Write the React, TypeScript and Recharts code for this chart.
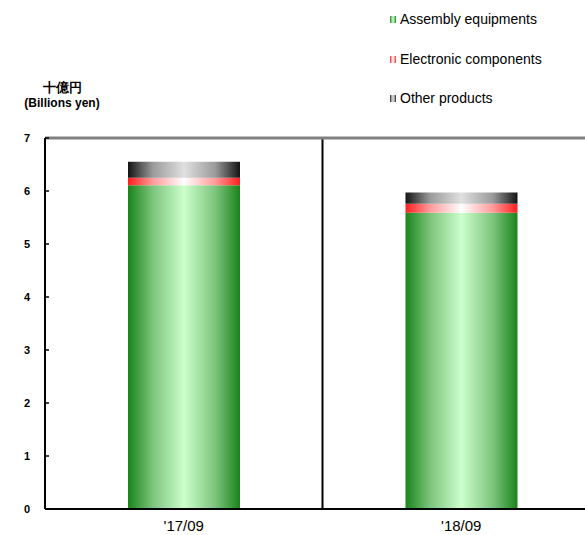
import { BarChart, Bar, XAxis, YAxis, CartesianGrid, ReferenceLine } from "recharts";

const categories = ["'17/09", "'18/09"];
const assembly = [6.11, 5.59];
const electronic = [0.14, 0.17];
const other = [0.3, 0.21];
const yTicks = [0, 1, 2, 3, 4, 5, 6, 7];

const seriesNames = ["Assembly equipments", "Electronic components", "Other products"];
const seriesKeys = ["assembly", "electronic", "other"];
const gradIds = ["gGreen", "gRed", "gGray"];

const data = categories.map((c, i) => ({
  name: c,
  assembly: assembly[i],
  electronic: electronic[i],
  other: other[i],
}));

const FONT = "'Liberation Sans', Arial, sans-serif";

function Grad({ id, edge, mid, center }: { id: string; edge: string; mid: string; center: string }) {
  return (
    <linearGradient id={id} x1="0" y1="0" x2="1" y2="0">
      <stop offset="0%" stopColor={edge} />
      <stop offset="22%" stopColor={mid} />
      <stop offset="50%" stopColor={center} />
      <stop offset="78%" stopColor={mid} />
      <stop offset="100%" stopColor={edge} />
    </linearGradient>
  );
}

function YTick(props: any) {
  const { x, y, payload } = props;
  return (
    <g>
      <line x1={x} y1={y} x2={x + 4} y2={y} stroke="#000" strokeWidth={1.5} />
      <text x={x - 15} y={y + 4} textAnchor="end" fontSize={11} fontWeight="bold" fill="#000" fontFamily={FONT}>
        {payload.value}
      </text>
    </g>
  );
}

// legend rows, centres at y 19 / 59 / 98 in the page
const legendTops = [3, 43, 82];

export default function App() {
  return (
    <div style={{ position: "absolute", left: 8, top: 8, width: 600, height: 527 }}>
      <div
        style={{
          position: "absolute",
          left: 0,
          top: 72,
          width: 108,
          textAlign: "center",
          fontFamily: FONT,
          fontWeight: "bold",
          color: "#000",
        }}
      >
        <div style={{ fontSize: 12.5, lineHeight: "16px" }}>十億円</div>
        <div style={{ fontSize: 12, lineHeight: "15px", whiteSpace: "nowrap" }}>(Billions yen)</div>
      </div>
      {seriesNames.map((n, i) => (
        <div
          key={n}
          style={{
            position: "absolute",
            left: 382,
            top: legendTops[i],
            height: 16,
            display: "flex",
            alignItems: "center",
            fontFamily: FONT,
            fontSize: 14,
            color: "#000",
            whiteSpace: "nowrap",
          }}
        >
          <svg width={6} height={7} style={{ marginRight: 4 }}>
            <rect x={0} y={0} width={6} height={7} fill={`url(#${gradIds[i]})`} />
          </svg>
          <span>{n}</span>
        </div>
      ))}
      <BarChart
        width={600}
        height={527}
        data={data}
        margin={{ top: 130, right: 8, bottom: 0, left: 0 }}
        barSize={112}
      >
        <defs>
          <Grad id="gGreen" edge="#1a841a" mid="#7cc47c" center="#ccffcc" />
          <Grad id="gRed" edge="#ff1e1e" mid="#ff9a9a" center="#ffffff" />
          <Grad id="gGray" edge="#141414" mid="#9a9a9a" center="#e0e0e0" />
        </defs>
        <CartesianGrid
          horizontal={false}
          stroke="#000"
          strokeWidth={2}
          verticalCoordinatesGenerator={({ offset }: any) => [offset.left + offset.width / 2]}
        />
        <ReferenceLine y={7} stroke="#808080" strokeWidth={3} />
        <XAxis
          dataKey="name"
          height={26}
          axisLine={{ stroke: "#000", strokeWidth: 2 }}
          tickLine={false}
          tick={{ fontSize: 15, fill: "#000", fontFamily: FONT }}
          tickMargin={5}
        />
        <YAxis
          width={37}
          domain={[0, 7]}
          ticks={yTicks}
          interval={0}
          axisLine={{ stroke: "#000", strokeWidth: 2 }}
          tickLine={false}
          tickSize={0}
          tickMargin={0}
          tick={<YTick />}
        />
        {seriesKeys.map((k, i) => (
          <Bar key={k} dataKey={k} name={seriesNames[i]} stackId="a" fill={`url(#${gradIds[i]})`} isAnimationActive={false} />
        ))}
      </BarChart>
    </div>
  );
}
